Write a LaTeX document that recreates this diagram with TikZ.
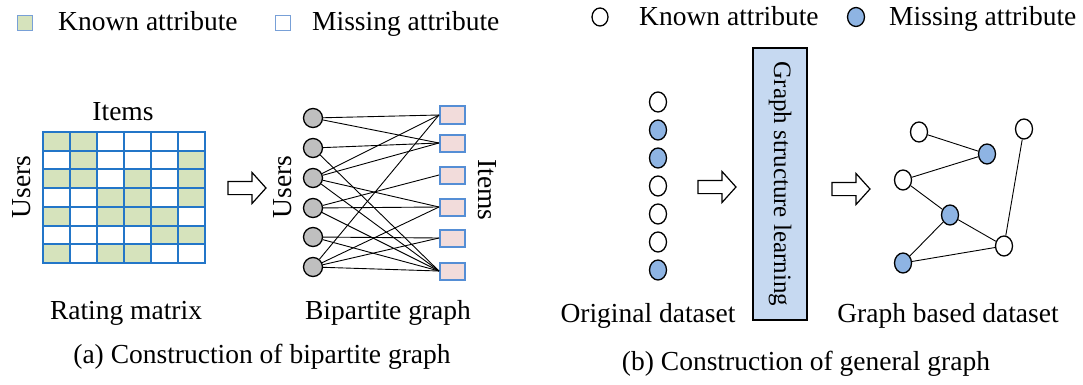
\documentclass[tikz,border=0pt]{standalone}
\usepackage{fontspec}
\setmainfont{Liberation Serif}
\usetikzlibrary{shapes.arrows,shapes.geometric}
\definecolor{gridblue}{RGB}{35,118,200}
\definecolor{cellgreen}{RGB}{214,227,188}
\definecolor{legendline}{RGB}{120,160,215}
\definecolor{usergray}{RGB}{191,191,191}
\definecolor{itempink}{RGB}{242,220,219}
\definecolor{itemline}{RGB}{85,142,213}
\definecolor{nodeblue}{RGB}{142,180,227}
\definecolor{boxblue}{RGB}{198,217,241}
\begin{document}
\begin{tikzpicture}
        [x=1pt,y=-1pt,
        lbl/.style={font=\fontsize{27.5}{33}\selectfont, inner sep=0pt},
        legsq/.style={rectangle,draw=legendline,line width=0.8pt,minimum size=15pt,inner sep=0pt},
        user/.style={circle,draw,fill=usergray,minimum size=19pt,inner sep=0pt,line width=1.3pt},
        item/.style={rectangle,draw=itemline,fill=itempink,minimum width=25pt,minimum height=17pt,inner sep=0pt,line width=2pt},
        known/.style={ellipse,draw,fill=white,minimum width=17pt,minimum height=20pt,inner sep=0pt,line width=1.3pt},
        missing/.style={known,fill=nodeblue},
        flow/.style={single arrow,draw,fill=white,line width=1.2pt,minimum height=38pt,inner xsep=0pt,inner ysep=6pt,single arrow head extend=9pt,single arrow tip angle=96},
        gridline/.style={draw=gridblue,line width=2pt},
        edge/.style={line width=0.9pt}]
        \useasboundingbox (0,0) rectangle (1083,385);

        % legends
        \node[legsq,fill=cellgreen] (kSq) at (24.5,22.5) {};
        \node[lbl,anchor=base west] (kTxt) at (58,31) {Known attribute};
        \node[legsq,fill=white] (mSq) at (282.5,22.5) {};
        \node[lbl,anchor=base west] (mTxt) at (312,31) {Missing attribute};
        \node[known,minimum width=16pt,minimum height=18pt] (kCirc) at (600,17) {};
        \node[lbl,anchor=base west] (kTxtB) at (639,26) {Known attribute};
        \node[missing,minimum width=17pt,minimum height=19pt] (mCirc) at (856,17) {};
        \node[lbl,anchor=base west] (mTxtB) at (889,26) {Missing attribute};

        % rating matrix
        \foreach \r/\c in {1/1,1/2,2/2,2/6,3/1,3/2,3/4,3/6,4/3,4/4,4/6,5/1,5/3,5/4,5/5,6/5,6/6,7/1,7/3,7/4}
            \fill[cellgreen] ({43+(\c-1)*27},{132+(\r-1)*18.7}) rectangle ++(27,18.7);
        \foreach \c in {0,...,6}
            \draw[gridline] ({43+\c*27},131) -- ++(0,133);
        \foreach \r in {0,...,7}
            \draw[gridline] (42,{132+\r*18.7}) -- ++(164,0);
        \node[lbl] (matItems) at (123,112) {Items};
        \node[lbl,rotate=90] (matUsers) at (22,187) {Users};
        \node[flow] (arA) at (244,188) {};

        % bipartite graph
        \foreach \n/\y in {1/118,2/148,3/178,4/208,5/237,6/267}
            \node[user] (u\n) at (313,\y) {};
        \foreach \n/\y in {1/115,2/143,3/175,4/207,5/238,6/271}
            \node[item] (i\n) at (452.5,\y) {};
        \foreach \a/\b in {1/1,1/2,2/2,2/6,3/1,3/2,3/4,3/6,4/3,4/4,4/6,5/5,5/6,6/1,6/4,6/5,6/6}
            \draw[edge] (u\a) -- (i\b.west);
        \node[lbl,rotate=90] (bipUsers) at (283,187) {Users};
        \node[lbl,rotate=-90] (bipItems) at (487,190) {Items};

        \node[lbl] (capMat) at (126,313) {Rating matrix};
        \node[lbl] (capBip) at (388,313) {Bipartite graph};
        \node[lbl] (capA) at (262,357) {(a) Construction of bipartite graph};

        % original dataset
        \foreach \n/\s in {1/known,2/missing,3/missing,4/known,5/known,6/known,7/missing}
            \node[\s] (o\n) at (658,{102+(\n-1)*28}) {};
        \node[flow] (arB) at (714,187) {};
        \node[draw,fill=boxblue,line width=1.3pt,rotate=-90,minimum width=272pt,minimum height=54pt,inner sep=0pt,font=\fontsize{25}{30}\selectfont] (gsl) at (780,184) {Graph structure learning};
        \node[flow] (arC) at (848,189) {};

        % graph based dataset
        \node[known] (g1) at (919,132) {};
        \node[missing] (g2) at (987,154) {};
        \node[known] (g3) at (1024,129) {};
        \node[known] (g4) at (903,180) {};
        \node[missing] (g5) at (950,215) {};
        \node[known] (g6) at (1004,246) {};
        \node[missing] (g7) at (903,263) {};
        \foreach \a/\b in {1/2,2/4,4/5,5/6,5/7,7/6,6/3}
            \draw[edge] (g\a) -- (g\b);

        \node[lbl] (capOrig) at (648,316) {Original dataset};
        \node[lbl] (capGraph) at (948,316) {Graph based dataset};
        \node[lbl] (capB) at (806,364) {(b) Construction of general graph};
    \end{tikzpicture}
\end{document}
